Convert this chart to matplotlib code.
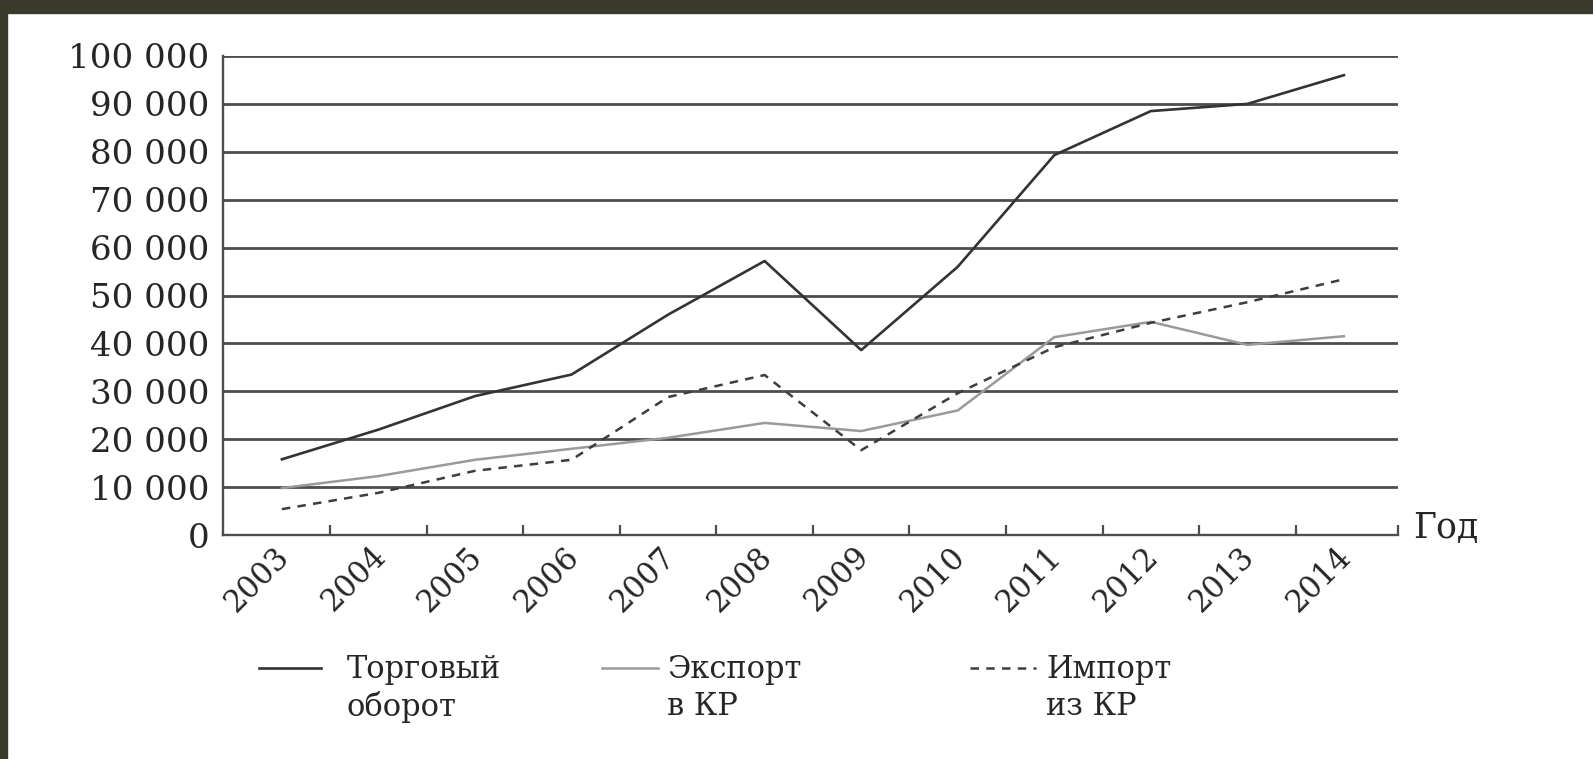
import matplotlib
matplotlib.use("Agg")
import matplotlib.pyplot as plt
from matplotlib.lines import Line2D
from matplotlib.patches import Rectangle
import matplotlib.transforms as mtransforms

years = ['2003', '2004', '2005', '2006', '2007', '2008', '2009', '2010', '2011', '2012', '2013', '2014']
trade = [15800, 22000, 29000, 33500, 46000, 57200, 38600, 56000, 79300, 88500, 90000, 96000]
export = [9800, 12300, 15700, 18000, 20300, 23400, 21700, 26000, 41300, 44500, 39700, 41500]
imports = [5400, 8800, 13400, 15700, 28800, 33400, 17700, 29600, 39200, 44300, 48600, 53400]
yticks = [0, 10000, 20000, 30000, 40000, 50000, 60000, 70000, 80000, 90000, 100000]
ytick_labels = ['0', '10 000', '20 000', '30 000', '40 000', '50 000', '60 000',
                '70 000', '80 000', '90 000', '100 000']
legend_labels = ['Торговый\nоборот', 'Экспорт\nв КР', 'Импорт\nиз КР']
axis_label = 'Год'

W, H = 1593, 759
plt.rcParams['font.family'] = ['DejaVu Serif', 'Liberation Serif']
TXT = '#262626'
GRID = '#4d4d4d'
FS = 22

fig = plt.figure(figsize=(W / 100, H / 100), dpi=100)
fig.patch.set_facecolor('white')

def fx(x):
    return x / W

def fy(y):
    return 1 - y / H

# dark frame
fig.add_artist(Rectangle((0, fy(13)), 1, 13 / H, transform=fig.transFigure,
                         color='#3a3b2a', zorder=0))
fig.add_artist(Rectangle((0, 0), 7 / W, 1, transform=fig.transFigure,
                         color='#3a3b2a', zorder=0))

ax = fig.add_axes([fx(223), fy(535), fx(1398) - fx(223), fy(56) - fy(535)])
ax.set_facecolor('white')

x = list(range(len(years)))
ax.plot(x, trade, color='#333333', lw=1.9, solid_joinstyle='round', zorder=3)
ax.plot(x, export, color='#9a9a9a', lw=1.8, solid_joinstyle='round', zorder=3)
ax.plot(x, imports, color='#3d3d3d', lw=1.8, dashes=(3.4, 2.9), zorder=3)

ax.set_xlim(-0.61, 11.56)
ax.set_ylim(0, 100000)

for v in yticks[1:]:
    ax.axhline(v, color=GRID, lw=2.0, zorder=1)

ax.set_yticks(yticks)
ax.set_yticklabels(ytick_labels, fontsize=24.5, color=TXT)
ax.tick_params(axis='y', length=0, pad=10)

ax.set_xticks(x)
ax.set_xticklabels(years, fontsize=FS, color=TXT, rotation=45, ha='right',
                   va='center', rotation_mode='anchor')
ax.tick_params(axis='x', which='major', length=0, pad=12)
offset = mtransforms.ScaledTranslation(3 / 100, 0, fig.dpi_scale_trans)
for lab in ax.get_xticklabels():
    lab.set_transform(lab.get_transform() + offset)

minor = [i + 0.5 for i in range(11)] + [11.56]
ax.set_xticks(minor, minor=True)
ax.tick_params(axis='x', which='minor', direction='in', length=7.5, width=1.6,
               color=GRID)

for s in ['top', 'right']:
    ax.spines[s].set_visible(False)
for s in ['left', 'bottom']:
    ax.spines[s].set_color(GRID)
    ax.spines[s].set_linewidth(1.7)

fig.text(fx(1413), fy(528), axis_label, fontsize=25, color=TXT, va='center', ha='left')

# legend
entries = [
    (259, 321, 347, dict(color='#333333', lw=1.9)),
    (602, 658, 667, dict(color='#9a9a9a', lw=1.8)),
    (970, 1036, 1046, dict(color='#3d3d3d', lw=1.8, dashes=(3.4, 2.9))),
]
for (x0, x1, tx, style), lab in zip(entries, legend_labels):
    fig.add_artist(Line2D([fx(x0), fx(x1)], [fy(668), fy(668)],
                          transform=fig.transFigure, **style))
    fig.text(fx(tx), fy(654), lab, fontsize=FS, color=TXT, va='top', ha='left',
             linespacing=1.25)

fig.savefig('out.png', dpi=100, facecolor='white')
